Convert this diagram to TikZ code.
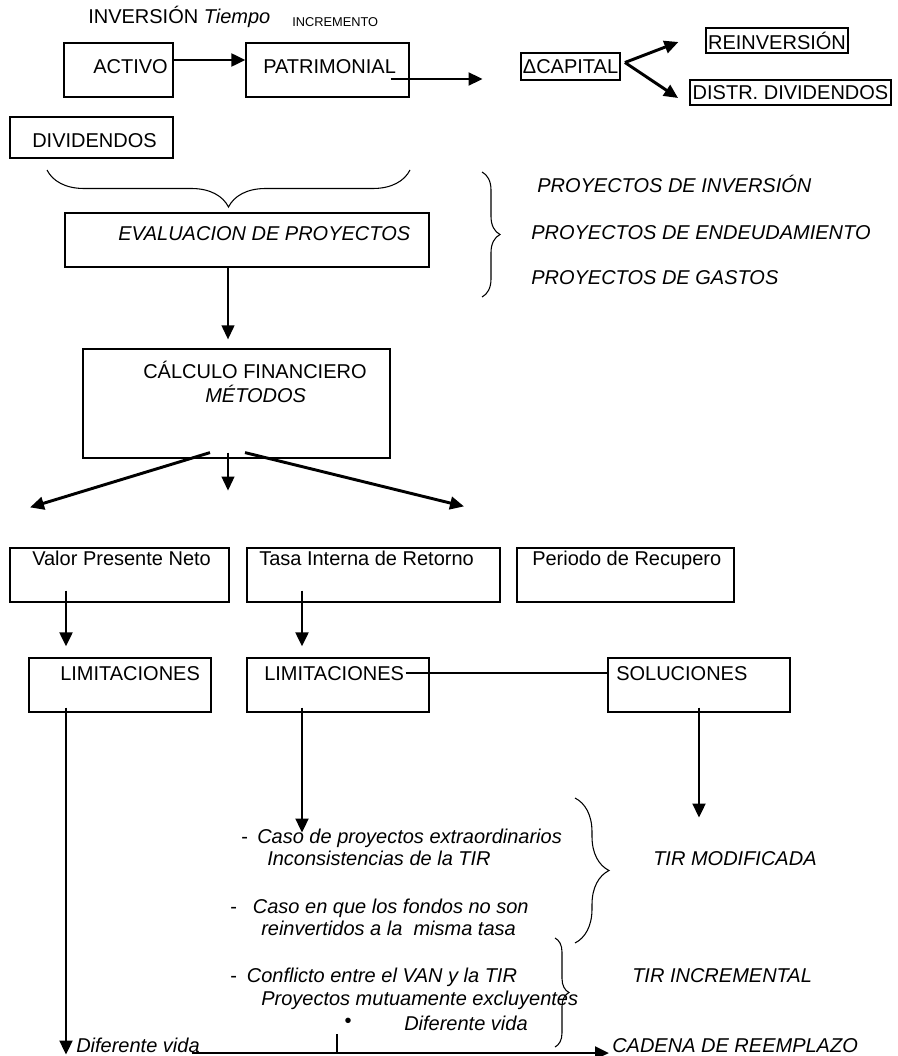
\documentclass[tikz,border=0pt]{standalone}
\usepackage{fontspec}
\setmainfont{Liberation Sans}
\usetikzlibrary{arrows.meta,calc,decorations.pathreplacing}

\begin{document}
\begin{tikzpicture}[x=0.75pt,y=-0.75pt,>={Triangle[length=10.5pt,width=9.5pt]},
    font=\fontsize{15pt}{18pt}\selectfont,
    box/.style={draw,line width=0.9pt,inner sep=0pt},
    wh/.style 2 args={minimum width=#1*0.75pt,minimum height=#2*0.75pt},
    txt/.style={inner sep=0pt,anchor=base west},
    arr/.style={->,line width=2.2pt},
    curly/.style={decorate,line width=0.8pt,decoration={brace,amplitude=#1}}]
  \useasboundingbox (0,0) rectangle (897,1056);

  % investment and capital
  \node[txt] (inv) at (88,24) {INVERSIÓN \textit{Tiempo}};
  \node[txt,font=\fontsize{9.6pt}{11pt}\selectfont] (incr) at (292,27) {INCREMENTO};
  \node[box,wh={109}{54}] (activo) at (118.5,70) {};
  \node[txt] (tactivo) at (93,74) {ACTIVO};
  \node[box,wh={163}{54}] (patrim) at (327.5,70) {};
  \node[txt] (tpatrim) at (263,74) {PATRIMONIAL};
  \node[box,line width=1.4pt,wh={99}{27}] (capital) at (570.5,66.5) {ΔCAPITAL};
  \node[box,wh={142}{25}] (reinv) at (777,40.5) {REINVERSIÓN};
  \node[box,line width=1.4pt,wh={201}{25}] (distr) at (790.5,92.5) {DISTR. DIVIDENDOS};

  \draw[arr] ($(activo.east)+(0,-10)$) -- ($(patrim.west)+(0,-10)$);
  \draw[arr] ($(patrim.east)+(-19,9)$) -- ++(92,0);
  \draw[arr] ($(capital.east)+(4,-4)$) -- ($(reinv.west)+(-27,1.5)$);
  \draw[arr] ($(capital.east)+(4,-4)$) -- ($(distr.west)+(-11,5.5)$);

  \node[box,wh={163}{41}] (divid) at (91.5,137.5) {};
  \node[txt] (tdivid) at (32,147) {DIVIDENDOS};
  \draw[curly=27.75pt] (410,170) -- (47,170);

  % evaluation
  \node[box,wh={364}{54}] (eval) at (247,240) {};
  \node[txt] (teval) at (118,240) {\itshape EVALUACION DE PROYECTOS};
  \draw[curly=13.5pt] (482,172) -- (482,297);
  \node[txt] (pinv) at (537,192) {\itshape PROYECTOS DE INVERSIÓN};
  \node[txt] (pend) at (531,239) {\itshape PROYECTOS DE ENDEUDAMIENTO};
  \node[txt] (pgas) at (531,284) {\itshape PROYECTOS DE GASTOS};

  \node[box,wh={307}{109}] (calc) at (236.5,403.5) {};
  \node[txt] (tcalc) at (143,378) {CÁLCULO FINANCIERO};
  \node[txt] (tmet) at (205,402) {\itshape MÉTODOS};
  \draw[->,line width=1.5pt] ($(eval.south)+(-19,0)$) -- ($(calc.north)+(-8.5,-9)$);

  % methods
  \node[box,wh={219}{54}] (vpn) at (119.5,575) {};
  \node[box,wh={253}{54}] (tasa) at (373.5,575) {};
  \node[box,wh={217}{54}] (periodo) at (625.5,575) {};
  \node[txt] (tvpn) at (32,565) {Valor Presente Neto};
  \node[txt] (ttasa) at (259,565) {Tasa Interna de Retorno};
  \node[txt] (tperiodo) at (532,565) {Periodo de Recupero};

  \draw[arr] ($(calc.south)+(-26.5,-6)$) -- ($(vpn.north)+(-89.5,-40)$);
  \draw[->,line width=1.5pt] ($(calc.south)+(-8.5,-6)$) -- ++(0,38);
  \draw[arr] ($(calc.south)+(8.5,-6)$) -- ($(tasa.north)+(90.5,-41)$);

  \node[box,wh={182}{54}] (lim1) at (120,685) {};
  \node[box,wh={182}{54}] (lim2) at (338,685) {};
  \node[box,wh={182}{54}] (sol) at (699,685) {};
  \node[txt] (tlim1) at (60,680) {LIMITACIONES};
  \node[txt] (tlim2) at (264,680) {LIMITACIONES};
  \node[txt] (tsol) at (616,680) {SOLUCIONES};

  \draw[arr] ($(vpn.south)+(-53.5,-12)$) -- ($(lim1.north)+(-54,-11)$);
  \draw[arr] ($(tasa.south)+(-71.5,-12)$) -- ($(lim2.north)+(-36,-11)$);
  \draw[line width=0.9pt] ($(lim2.east)+(-24,-12)$) -- ($(sol.west)+(0,-12)$);
  \draw[arr] ($(lim1.south)+(-54,-5)$) -- ++(0,347);
  \draw[arr] ($(lim2.south)+(-36,-5)$) -- ++(0,125);
  \draw[arr] ($(sol.south)+(0,-5)$) -- ++(0,110);

  % limitations and solutions
  \node[txt] (l1) at (241,843) {-\hspace{7pt}\itshape Caso de proyectos extraordinarios};
  \node[txt] (l2) at (267,865) {\itshape Inconsistencias de la TIR};
  \node[txt] (l3) at (230,913) {-\hspace{12pt}\itshape Caso en que los fondos no son};
  \node[txt] (l4) at (261,935) {\itshape reinvertidos a la\ \ misma tasa};
  \node[txt] (l5) at (230,982) {-\hspace{7.5pt}\itshape Conflicto entre el VAN y la TIR};
  \node[txt] (l6) at (261,1005) {\itshape Proyectos mutuamente excluyentes};
  \node[inner sep=0pt] (bul) at (348,1023) {•};
  \node[txt] (l7) at (404,1030) {\itshape Diferente vida};

  \draw[curly=25.5pt] (575,798) -- (575,943);
  \draw[curly=10.5pt] (555,938) -- (555,1047);
  \node[txt] (tirmod) at (653,865) {\itshape TIR MODIFICADA};
  \node[txt] (tirinc) at (632,982) {\itshape TIR INCREMENTAL};
  \node[txt] (cadena) at (612,1052) {\itshape CADENA DE REEMPLAZO};
  \node[txt] (vida) at (76,1052) {\itshape Diferente vida};

  \draw[arr] ($(vida.base east)+(-8,1)$) -- ($(cadena.base west)+(-3,1)$);
  \draw[line width=0.8pt] ($(bul)+(-11,11)$) -- ++(0,19);
\end{tikzpicture}
\end{document}
